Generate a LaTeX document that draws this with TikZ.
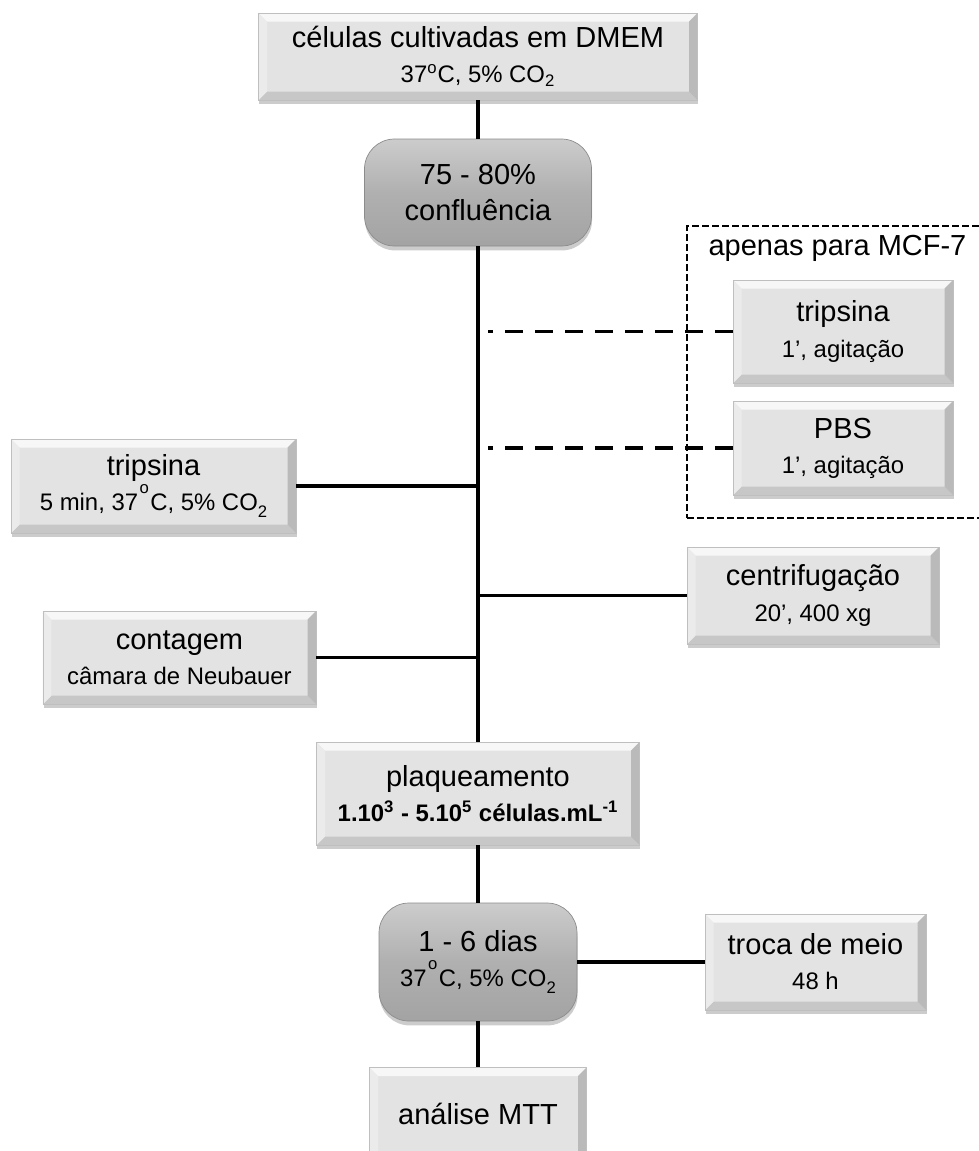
\documentclass[tikz,border=0pt]{standalone}
\usepackage{fontspec}
\setmainfont{Liberation Sans}
\usetikzlibrary{positioning}
\usetikzlibrary{shadows}
\usetikzlibrary{calc}

\newcommand{\detalhe}{\fontsize{13.6}{16}\selectfont}
\newcommand{\grau}{\hspace{0.06em}\raisebox{1.3ex}{\fontsize{9.5}{9.5}\selectfont o}\hspace{0.06em}}
\newcommand{\cobaixo}{CO\raisebox{-0.6ex}{\fontsize{9.5}{9.5}\selectfont 2}}

\begin{document}
\begin{tikzpicture}
\tikzstyle{etapa}=[draw=black!25, fill=black!11, align=center, inner sep=2pt,
  font=\fontsize{16.5}{20}\selectfont,
  drop shadow={shadow xshift=0.3pt, shadow yshift=-2.5pt, opacity=0.4},
  path picture={
    \fill[black!3] (path picture bounding box.north west) -- (path picture bounding box.north east)
      -- ([xshift=-0.17cm,yshift=-0.17cm]path picture bounding box.north east)
      -- ([xshift=0.17cm,yshift=-0.17cm]path picture bounding box.north west) -- cycle;
    \fill[black!22] (path picture bounding box.south west) -- (path picture bounding box.south east)
      -- ([xshift=-0.17cm,yshift=0.17cm]path picture bounding box.south east)
      -- ([xshift=0.17cm,yshift=0.17cm]path picture bounding box.south west) -- cycle;
    \fill[black!8] (path picture bounding box.north west) -- (path picture bounding box.south west)
      -- ([xshift=0.17cm,yshift=0.17cm]path picture bounding box.south west)
      -- ([xshift=0.17cm,yshift=-0.17cm]path picture bounding box.north west) -- cycle;
    \fill[black!27] (path picture bounding box.north east) -- (path picture bounding box.south east)
      -- ([xshift=-0.17cm,yshift=0.17cm]path picture bounding box.south east)
      -- ([xshift=-0.17cm,yshift=-0.17cm]path picture bounding box.north east) -- cycle;
  }]
\tikzstyle{fase}=[draw=black!45, top color=black!20, bottom color=black!36, middle color=black!31,
  rounded corners=0.6cm, align=center, inner sep=2pt, font=\fontsize{16.5}{20}\selectfont,
  drop shadow={shadow xshift=0.3pt, shadow yshift=-2.5pt, opacity=0.4}]
\tikzstyle{moldura}=[draw, line width=0.9pt, dash pattern=on 0.14cm off 0.06cm]
\tikzstyle{liga}=[line width=2.1pt]
\tikzstyle{opcional}=[line width=2.1pt, dash pattern=on 0.36cm off 0.24cm, shorten >=0.2cm]

\useasboundingbox (0,0) rectangle (19.58,-23.02);
\clip (0,0) rectangle (19.58,-23.02);

% coluna central
\node[etapa, minimum width=8.78cm, minimum height=1.74cm] (cultivo) at (9.56,-1.13)
  {células cultivadas em DMEM\\{\detalhe 37\textsuperscript{o}C, 5\% CO\textsubscript{2}}};
\node[fase, minimum width=4.54cm, minimum height=2.14cm] (confl) at (9.56,-3.85)
  {75 - 80\%\\confluência};
\node[etapa, minimum width=6.46cm, minimum height=2.06cm] (plaq) at (9.56,-15.87)
  {plaqueamento\\{\detalhe\bfseries 1.10\textsuperscript{3} - 5.10\textsuperscript{5} células.mL\textsuperscript{-1}}};
\node[fase, minimum width=3.96cm, minimum height=2.36cm] (dias) at (9.56,-19.24)
  {1 - 6 dias\\{\detalhe 37\grau C, 5\% \cobaixo}};
\node[etapa, minimum width=4.34cm, minimum height=1.84cm] (mtt) at (9.56,-22.27) {análise MTT};

% apenas para MCF-7
\node[moldura, anchor=north west, minimum width=6.9cm, minimum height=5.84cm] (grupo) at (13.72,-4.50) {};
\node[font=\fontsize{16.5}{20}\selectfont] (mcf) at (16.75,-4.96) {apenas para MCF-7};
\node[etapa, minimum width=4.40cm, minimum height=2.06cm] (trip2) at (16.86,-6.63)
  {tripsina\\{\detalhe 1’, agitação}};
\node[etapa, minimum width=4.40cm, minimum height=1.88cm] (pbs) at (16.86,-8.96)
  {PBS\\{\detalhe 1’, agitação}};

% etapas laterais
\node[etapa, minimum width=5.70cm, minimum height=1.88cm] (trip1) at (3.07,-9.72)
  {tripsina\\{\detalhe 5 min, 37\grau C, 5\% \cobaixo}};
\node[etapa, minimum width=5.04cm, minimum height=1.94cm] (centr) at (16.26,-11.91)
  {centrifugação\\{\detalhe 20’, 400 xg}};
\node[etapa, minimum width=5.46cm, minimum height=1.86cm] (cont) at (3.59,-13.15)
  {contagem\\{\detalhe câmara de Neubauer}};
\node[etapa, minimum width=4.42cm, minimum height=1.92cm] (troca) at (16.31,-19.24)
  {troca de meio\\{\detalhe 48 h}};

\draw[liga] (cultivo) -- (confl);
\draw[liga] (confl) -- (plaq);
\draw[liga] (plaq) -- (dias);
\draw[liga] (dias) -- (mtt);
\draw[liga] (trip1) -- (trip1 -| confl);
\draw[liga] (centr) -- (centr -| confl);
\draw[liga] (cont) -- (cont -| confl);
\draw[liga] (dias) -- (troca);
\draw[opcional] (trip2) -- (trip2 -| confl);
\draw[opcional] (pbs) -- (pbs -| confl);
\end{tikzpicture}
\end{document}
